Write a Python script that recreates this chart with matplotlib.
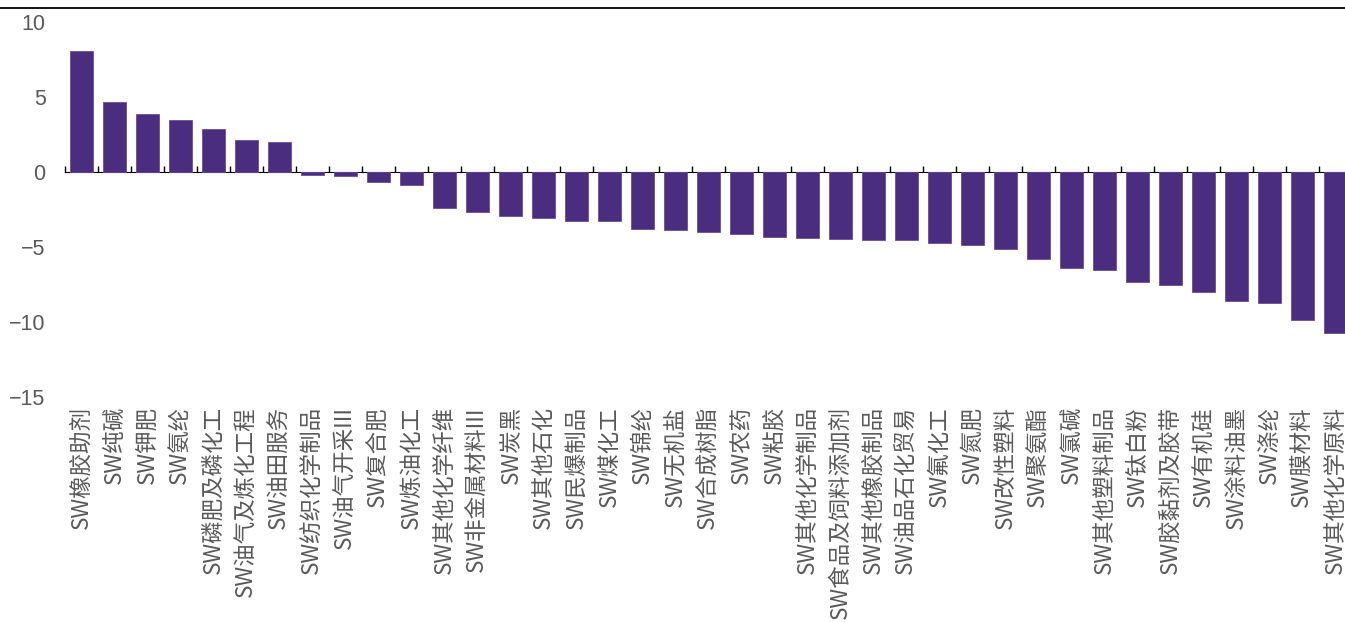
import matplotlib.pyplot as plt
from matplotlib.lines import Line2D
import numpy as np

categories = [
    "SW橡胶助剂", "SW纯碱", "SW钾肥", "SW氨纶", "SW磷肥及磷化工",
    "SW油气及炼化工程", "SW油田服务", "SW纺织化学制品", "SW油气开采III",
    "SW复合肥", "SW炼油化工", "SW其他化学纤维", "SW非金属材料III", "SW炭黑",
    "SW其他石化", "SW民爆制品", "SW煤化工", "SW锦纶", "SW无机盐",
    "SW合成树脂", "SW农药", "SW粘胶", "SW其他化学制品", "SW食品及饲料添加剂",
    "SW其他橡胶制品", "SW油品石化贸易", "SW氟化工", "SW氮肥", "SW改性塑料",
    "SW聚氨酯", "SW氯碱", "SW其他塑料制品", "SW钛白粉", "SW胶黏剂及胶带",
    "SW有机硅", "SW涂料油墨", "SW涤纶", "SW膜材料", "SW其他化学原料",
]
values = [
    8.06, 4.63, 3.83, 3.45, 2.85,
    2.10, 1.98, -0.20, -0.27,
    -0.69, -0.91, -2.42, -2.69, -2.98,
    -3.11, -3.27, -3.31, -3.80, -3.85,
    -4.03, -4.16, -4.36, -4.43, -4.51,
    -4.58, -4.58, -4.78, -4.87, -5.16,
    -5.85, -6.45, -6.58, -7.38, -7.52,
    -8.05, -8.65, -8.72, -9.92, -10.75,
]
yticks = [-15, -10, -5, 0, 5, 10]

W, H = 1345, 622
BAR = "#4B2D7F"
GREY = "#595959"


def main():
    fig = plt.figure(figsize=(W / 100, H / 100), dpi=100)
    n = len(categories)
    step = 33
    ax = fig.add_axes([65 / W, 1 - 396.6 / H, n * step / W, 374.6 / H])

    x = np.arange(n)
    ax.bar(x, values, width=0.7, color=BAR, edgecolor="#6A4C9C", linewidth=0.6, zorder=2)

    ax.set_xlim(-0.5, n - 0.5)
    ax.set_ylim(yticks[0], yticks[-1])
    ax.set_yticks(yticks)
    ax.set_yticklabels([str(t).replace("-", "\u2212") for t in yticks],
                       family="Liberation Sans", fontsize=15.5, color=GREY)
    ax.tick_params(axis="y", length=0, pad=14)

    ax.set_xticks(x)
    ax.set_xticklabels(categories, rotation=90, va="top", ha="center",
                       family=["Noto Sans CJK SC", "DejaVu Sans"],
                       fontsize=16.2, color=GREY)
    ax.tick_params(axis="x", length=0, pad=7)

    for s in ax.spines.values():
        s.set_visible(False)

    # zero line with ticks at category boundaries
    zero = (0 - yticks[0]) / (yticks[-1] - yticks[0])
    sec = ax.secondary_xaxis(zero)
    sec.set_xticks(np.arange(n + 1) - 0.5)
    sec.set_xticklabels([])
    sec.tick_params(axis="x", length=4, width=1, direction="out", color="black")
    sec.spines["bottom"].set_linewidth(1.5)
    sec.spines["bottom"].set_color("black")

    fig.add_artist(Line2D([0, 1], [1 - 8 / H, 1 - 8 / H], color="black",
                          linewidth=1.3, transform=fig.transFigure))

    fig.savefig("out.png", dpi=100)
    plt.close(fig)


if __name__ == "__main__":
    main()
